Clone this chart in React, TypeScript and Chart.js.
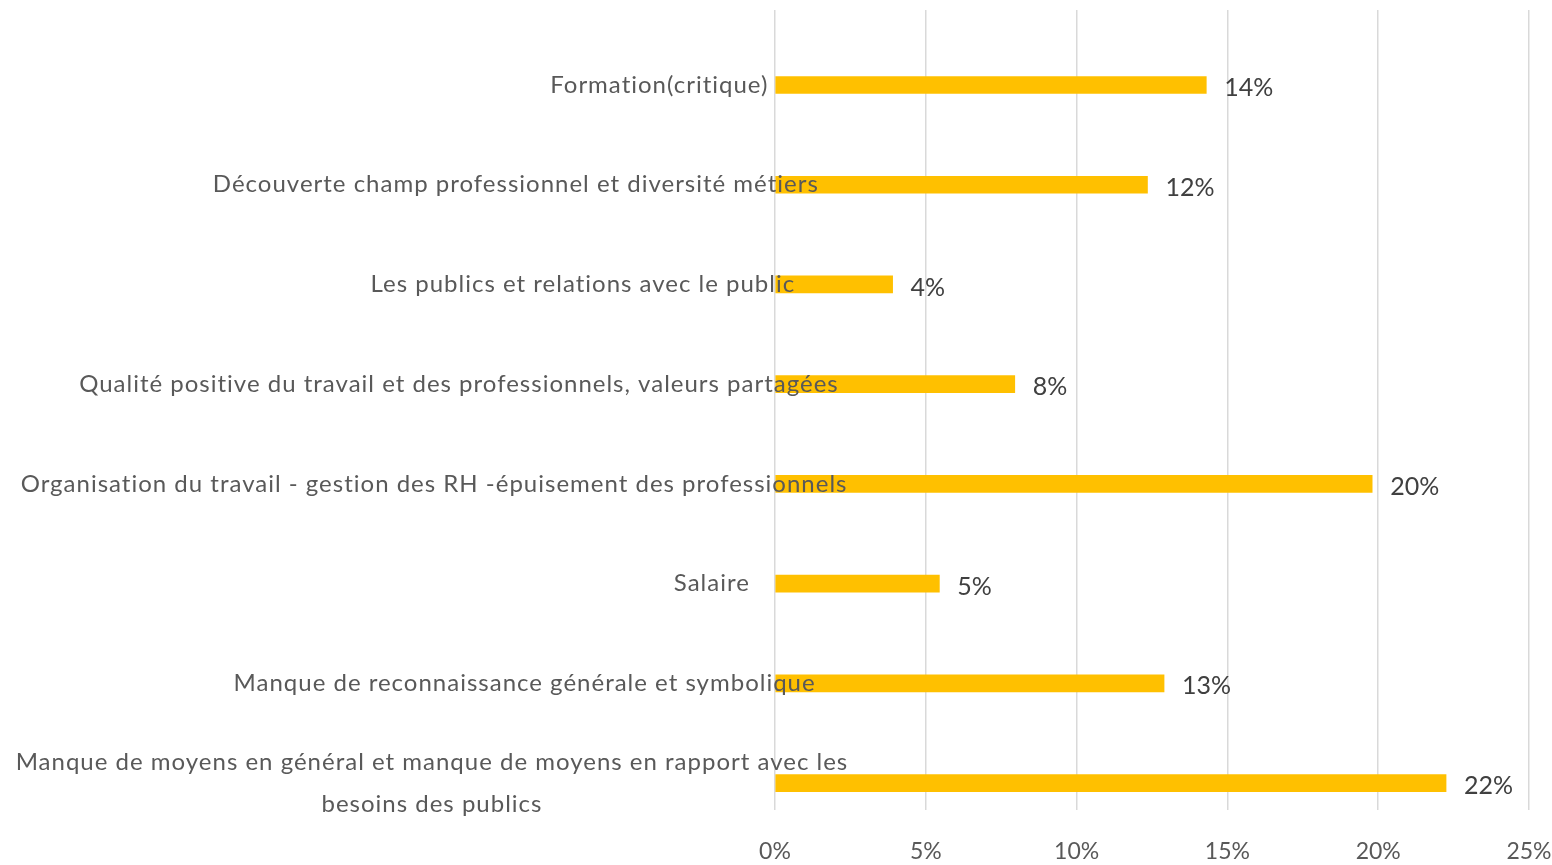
import { useEffect, useRef } from "react";
import { Chart, registerables } from "chart.js";

Chart.register(...registerables);

const categories: string[][] = [
  ["Formation(critique)"],
  ["Découverte champ professionnel et diversité métiers"],
  ["Les publics et relations avec le public"],
  ["Qualité positive du travail et des professionnels, valeurs partagées"],
  ["Organisation du travail - gestion des RH -épuisement des professionnels"],
  ["Salaire"],
  ["Manque de reconnaissance générale et symbolique"],
  ["Manque de moyens en général et manque de moyens en rapport avec les", "besoins des publics"],
];
const values = [14.3, 12.35, 3.9, 7.95, 19.8, 5.45, 12.9, 22.25];
const xTicks = [0, 5, 10, 15, 20, 25];

const LABEL_FONT = "24px Lato, 'Open Sans', sans-serif";
const NUM_FONT_FAMILY = "Lato, sans-serif";

const yLabelsPlugin = {
  id: "yLabels",
  afterDraw(chart: any) {
    const ctx = chart.ctx as CanvasRenderingContext2D;
    const yScale = chart.scales.y;
    const left = chart.chartArea.left;
    ctx.save();
    ctx.font = LABEL_FONT;
    (ctx as any).letterSpacing = "1px";
    ctx.fillStyle = "#595959";
    ctx.textBaseline = "middle";
    ctx.textAlign = "center";
    categories.forEach((lines, i) => {
      const yc = yScale.getPixelForValue(i);
      const widths = lines.map((l) => ctx.measureText(l).width);
      const w = Math.max(...widths);
      const right = left - 35 + 0.13 * w;
      const cx = right - w / 2;
      const lh = 42;
      lines.forEach((line, k) => {
        const y = yc + (k - (lines.length - 1) / 2) * lh;
        ctx.fillText(line, cx, y);
      });
    });
    ctx.restore();
  },
};

const dataLabelsPlugin = {
  id: "dataLabels",
  afterDatasetsDraw(chart: any) {
    const ctx = chart.ctx as CanvasRenderingContext2D;
    const meta = chart.getDatasetMeta(0);
    ctx.save();
    ctx.font = "25px " + NUM_FONT_FAMILY;
    ctx.fillStyle = "#404040";
    ctx.textBaseline = "middle";
    ctx.textAlign = "left";
    meta.data.forEach((bar: any, i: number) => {
      ctx.fillText(Math.round(values[i]) + "%", bar.x + 18, bar.y + 3);
    });
    ctx.restore();
  },
};

export default function App() {
  const ref = useRef<HTMLCanvasElement>(null);
  useEffect(() => {
    if (!ref.current) return;
    const chart = new Chart(ref.current, {
      type: "bar",
      data: {
        datasets: [
          {
            data: values.map((v, i) => ({ x: v, y: i })),
            backgroundColor: "#FFC000",
            borderWidth: 0,
            barThickness: 17,
          },
        ],
      },
      options: {
        indexAxis: "y",
        animation: false,
        responsive: false,
        devicePixelRatio: 1,
        layout: { padding: { top: 10, right: 23, left: 0, bottom: 0 } },
        plugins: {
          legend: { display: false },
          tooltip: { enabled: false },
          title: { display: false },
        },
        scales: {
          x: {
            type: "linear",
            min: 0,
            max: 25,
            afterBuildTicks: (s: any) => {
              s.ticks = xTicks.map((v) => ({ value: v }));
            },
            afterFit: (s: any) => {
              s.height = 55;
              s.paddingLeft = 0;
              s.paddingRight = 0;
            },
            ticks: {
              callback: (v: any) => v + "%",
              color: "#595959",
              font: { family: NUM_FONT_FAMILY, size: 23 },
              padding: 28,
              maxRotation: 0,
            },
            grid: { color: "#D9D9D9", lineWidth: 1.5, drawTicks: false },
            border: { display: false },
          },
          y: {
            type: "linear",
            reverse: true,
            bounds: "data",
            min: -0.752,
            max: 7.27,
            ticks: { display: false },
            grid: { display: false },
            border: { display: false },
            afterBuildTicks: (s: any) => {
              s.ticks = [];
            },
            afterFit: (s: any) => {
              s.width = 775;
              s.paddingTop = 0;
              s.paddingBottom = 0;
            },
          },
        },
      },
      plugins: [yLabelsPlugin, dataLabelsPlugin],
    } as any);
    return () => chart.destroy();
  }, []);
  return (
    <div style={{ position: "fixed", left: 0, top: 0, width: 1552, height: 865, background: "#fff" }}>
      <canvas ref={ref} width={1552} height={865} style={{ display: "block" }} />
    </div>
  );
}
